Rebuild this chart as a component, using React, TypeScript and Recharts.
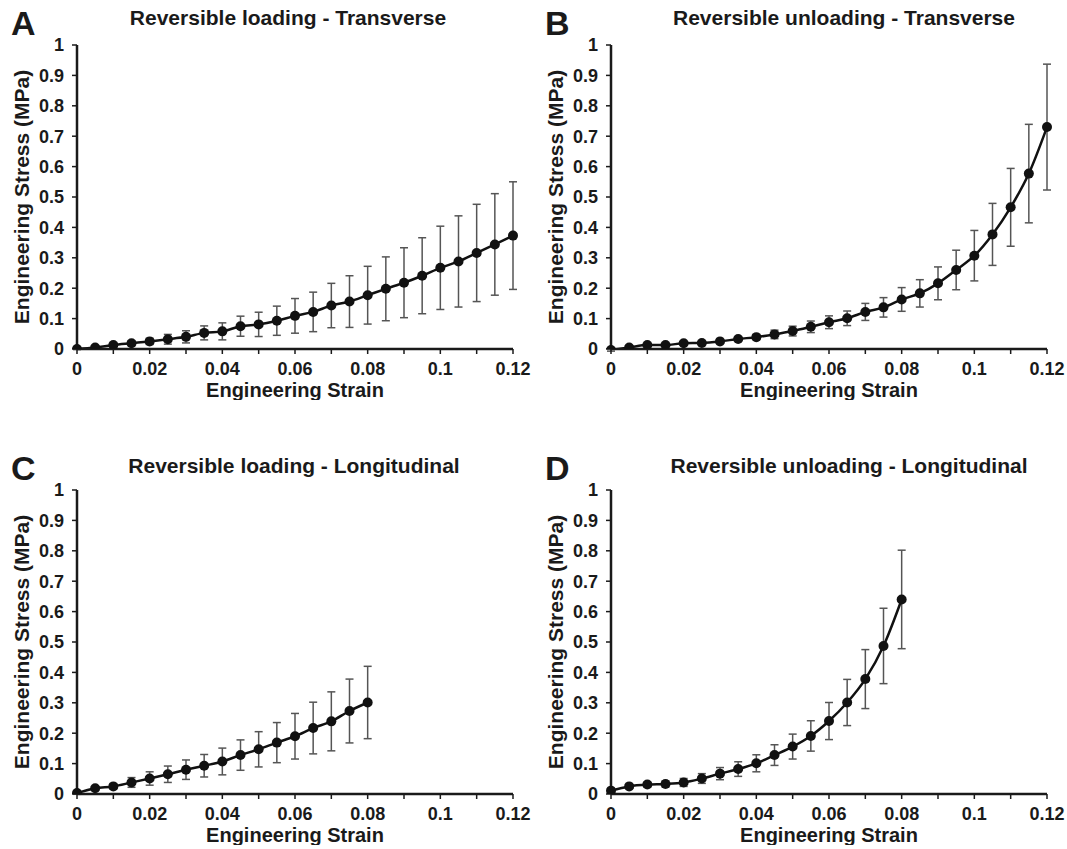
import { LineChart, Line, XAxis, YAxis, ErrorBar, Label } from 'recharts';

const FONT = '"Liberation Sans", Arial, Helvetica, sans-serif';
const INK = '#1a1a1a';

// strain steps
const strainTransverse = [0, 0.005, 0.01, 0.015, 0.02, 0.025, 0.03, 0.035, 0.04, 0.045, 0.05, 0.055, 0.06, 0.065, 0.07, 0.075, 0.08, 0.085, 0.09, 0.095, 0.1, 0.105, 0.11, 0.115, 0.12];
const strainLongitudinal = [0, 0.005, 0.01, 0.015, 0.02, 0.025, 0.03, 0.035, 0.04, 0.045, 0.05, 0.055, 0.06, 0.065, 0.07, 0.075, 0.08];

// A - loading transverse
const loadTransStress = [0, 0.005, 0.013, 0.019, 0.025, 0.032, 0.04, 0.053, 0.058, 0.075, 0.081, 0.093, 0.109, 0.122, 0.143, 0.156, 0.177, 0.198, 0.218, 0.241, 0.267, 0.288, 0.316, 0.344, 0.373];
const loadTransErr = [0.002, 0.004, 0.006, 0.008, 0.01, 0.016, 0.02, 0.023, 0.028, 0.033, 0.04, 0.048, 0.057, 0.065, 0.073, 0.085, 0.095, 0.105, 0.115, 0.125, 0.137, 0.15, 0.16, 0.167, 0.177];

// B - unloading transverse
const unloadTransStress = [-0.003, 0.005, 0.013, 0.013, 0.019, 0.02, 0.025, 0.033, 0.039, 0.048, 0.059, 0.073, 0.088, 0.101, 0.122, 0.137, 0.163, 0.183, 0.216, 0.26, 0.307, 0.377, 0.466, 0.577, 0.73];
const unloadTransErr = [0.004, 0.004, 0.004, 0.005, 0.005, 0.005, 0.005, 0.006, 0.008, 0.014, 0.016, 0.019, 0.021, 0.024, 0.028, 0.032, 0.039, 0.045, 0.054, 0.065, 0.083, 0.102, 0.128, 0.162, 0.207];

// C - loading longitudinal
const loadLongStress = [0.003, 0.019, 0.025, 0.038, 0.051, 0.065, 0.08, 0.093, 0.107, 0.128, 0.147, 0.169, 0.19, 0.217, 0.239, 0.273, 0.301];
const loadLongErr = [0.004, 0.005, 0.008, 0.016, 0.022, 0.027, 0.032, 0.037, 0.044, 0.05, 0.058, 0.066, 0.075, 0.085, 0.097, 0.105, 0.119];

// D - unloading longitudinal
const unloadLongStress = [0.011, 0.025, 0.031, 0.033, 0.038, 0.051, 0.067, 0.082, 0.101, 0.128, 0.156, 0.191, 0.24, 0.301, 0.378, 0.487, 0.64];
const unloadLongErr = [0.004, 0.006, 0.008, 0.01, 0.013, 0.016, 0.02, 0.024, 0.028, 0.034, 0.041, 0.05, 0.061, 0.076, 0.097, 0.124, 0.162];

const xTicks = [0, 0.01, 0.02, 0.03, 0.04, 0.05, 0.06, 0.07, 0.08, 0.09, 0.1, 0.11, 0.12];
const xTickLabels = ['0', '', '0.02', '', '0.04', '', '0.06', '', '0.08', '', '0.1', '', '0.12'];
const yTicks = [0, 0.1, 0.2, 0.3, 0.4, 0.5, 0.6, 0.7, 0.8, 0.9, 1];
const yTickLabels = ['0', '0.1', '0.2', '0.3', '0.4', '0.5', '0.6', '0.7', '0.8', '0.9', '1'];

const panels = [
  { letter: 'A', title: 'Reversible loading - Transverse', strain: strainTransverse, stress: loadTransStress, err: loadTransErr, left: 0, top: 0, titleDx: -7, titleTop: 7 },
  { letter: 'B', title: 'Reversible unloading - Transverse', strain: strainTransverse, stress: unloadTransStress, err: unloadTransErr, left: 534, top: 0, titleDx: 15, titleTop: 7 },
  { letter: 'C', title: 'Reversible loading - Longitudinal', strain: strainLongitudinal, stress: loadLongStress, err: loadLongErr, left: 0, top: 445, titleDx: -1, titleTop: 10 },
  { letter: 'D', title: 'Reversible unloading - Longitudinal', strain: strainLongitudinal, stress: unloadLongStress, err: unloadLongErr, left: 534, top: 445, titleDx: 20, titleTop: 10 },
];

const tickStyle = { fontSize: 18, fontWeight: 700, fill: INK, fontFamily: FONT };

function Panel({ p }: { p: any }) {
  const data = p.strain.map((x: number, i: number) => ({ x, y: p.stress[i], err: p.err[i] }));
  return (
    <div style={{ position: 'absolute', left: p.left, top: p.top, width: 540, height: 400 }}>
      <div style={{ position: 'absolute', left: 11, top: 3, fontSize: 34, fontWeight: 700, fontFamily: FONT, color: INK, lineHeight: '40px' }}>
        {p.letter}
      </div>
      <div style={{ position: 'absolute', left: 77 + p.titleDx - 50, width: 536, top: p.titleTop, textAlign: 'center', fontSize: 21, fontWeight: 700, fontFamily: FONT, color: INK, lineHeight: '21px', whiteSpace: 'nowrap' }}>
        {p.title}
      </div>
      <LineChart width={540} height={400} data={data} margin={{ top: 45, right: 27, bottom: 0, left: 0 }}>
        <XAxis
          dataKey="x"
          type="number"
          domain={[0, 0.12]}
          ticks={xTicks}
          tickFormatter={(v: number, i: number) => xTickLabels[i]}
          interval={0}
          height={51}
          tick={tickStyle}
          tickSize={5}
          tickMargin={8}
          axisLine={{ stroke: INK, strokeWidth: 2.5 }}
          tickLine={{ stroke: INK, strokeWidth: 1.5 }}
        >
          <Label value="Engineering Strain" position="insideBottom" offset={3} style={{ fontSize: 20, fontWeight: 700, fill: INK, fontFamily: FONT }} />
        </XAxis>
        <YAxis
          type="number"
          domain={[0, 1]}
          ticks={yTicks}
          tickFormatter={(v: number, i: number) => yTickLabels[i]}
          interval={0}
          width={77}
          tick={tickStyle}
          tickSize={5}
          tickMargin={8}
          axisLine={{ stroke: INK, strokeWidth: 2.5 }}
          tickLine={{ stroke: INK, strokeWidth: 1.5 }}
          allowDataOverflow
        >
          <Label value="Engineering Stress (MPa)" angle={-90} position="insideLeft" offset={0} dx={22} style={{ fontSize: 21, fontWeight: 700, fill: INK, fontFamily: FONT, textAnchor: 'middle' }} />
        </YAxis>
        <Line
          type="monotone"
          dataKey="y"
          stroke="#111"
          strokeWidth={2.5}
          dot={{ r: 5, fill: '#111', stroke: '#111', strokeWidth: 0 }}
          isAnimationActive={false}
        >
          <ErrorBar dataKey="err" direction="y" width={4} stroke="#555" strokeWidth={1.5} />
        </Line>
      </LineChart>
    </div>
  );
}

export default function App() {
  return (
    <div style={{ position: 'absolute', left: 0, top: 0, width: 1067, height: 849, background: '#fff', fontFamily: FONT }}>
      {panels.map(p => <Panel key={p.letter} p={p} />)}
    </div>
  );
}
